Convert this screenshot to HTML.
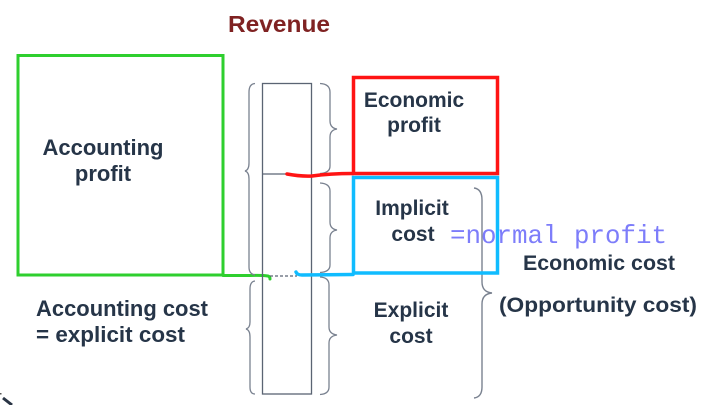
<!DOCTYPE html>
<html>
<head>
<meta charset="utf-8">
<style>
  html, body { margin: 0; padding: 0; background: #ffffff; }
  body { width: 724px; height: 405px; overflow: hidden; }
  svg { display: block; }
  .t { font-family: "Liberation Sans", "DejaVu Sans", sans-serif; font-weight: bold; fill: #263548; }
</style>
</head>
<body>
<svg width="724" height="405" viewBox="0 0 724 405" xmlns="http://www.w3.org/2000/svg">
  <rect width="724" height="405" fill="#ffffff"/>

  <!-- Revenue title -->
  <text x="228" y="32" font-family="Liberation Sans, sans-serif" font-weight="bold" font-size="23" fill="#7f2222" textLength="102" lengthAdjust="spacingAndGlyphs">Revenue</text>

  <!-- Green accounting profit box -->
  <rect x="18" y="55.5" width="205" height="219.5" fill="none" stroke="#2ecf2e" stroke-width="3"/>
  <path d="M223 275.5 L250 275.5 Q262 275 268 276 Q270 276.5 270 279" fill="none" stroke="#2ecf2e" stroke-width="3" stroke-linecap="round"/>

  <!-- Column rectangle -->
  <rect x="262.5" y="83.5" width="49" height="310.5" fill="none" stroke="#5b6473" stroke-width="1.3"/>
  <line x1="262.5" y1="174" x2="290" y2="174" stroke="#5b6473" stroke-width="1.3"/>
  <line x1="270" y1="276" x2="297" y2="276" stroke="#5b6473" stroke-width="1.2" stroke-dasharray="3 2"/>

  <!-- Left braces -->
  <path d="M255 83.5 Q249 84 249 92 L249 163 Q249 170 245 171 Q249 172 249 179 L249 267 Q249 274 255 275" fill="none" stroke="#7a8290" stroke-width="1.3"/>
  <path d="M255 281 Q250 281.5 250 289 L250 322 Q250 328 246 329 Q250 330 250 337 L250 387 Q250 394 255 394" fill="none" stroke="#7a8290" stroke-width="1.3"/>

  <!-- Right braces -->
  <path d="M320 83.5 Q330 84 330 92 L330 121 Q330 128 337 129 Q330 130 330 137 L330 166 Q330 173 320 173.5" fill="none" stroke="#7a8290" stroke-width="1.3"/>
  <path d="M320 183 Q330 183.5 330 191 L330 222 Q330 229 337 230 Q330 231 330 238 L330 265 Q330 272 320 272.5" fill="none" stroke="#7a8290" stroke-width="1.3"/>
  <path d="M320 277 Q329 277.5 329 285 L329 327 Q329 334 337 335 Q329 336 329 343 L329 387 Q329 394 320 394.5" fill="none" stroke="#7a8290" stroke-width="1.3"/>

  <!-- Big economic cost brace -->
  <path d="M474 188 Q482 189 482 200 L482 282 Q482 292 492 293 Q482 294 482 304 L482 387 Q482 397 474 398" fill="none" stroke="#7a8290" stroke-width="1.4"/>

  <!-- Red economic profit box -->
  <rect x="353.5" y="77.5" width="144" height="96" fill="none" stroke="#ff1414" stroke-width="3.5"/>
  <path d="M287 174 Q300 176.5 312 176 Q330 173.5 353 173.5" fill="none" stroke="#ff1414" stroke-width="3.5" stroke-linecap="round"/>

  <!-- Blue implicit cost box -->
  <rect x="353.5" y="177.5" width="144" height="95.5" fill="none" stroke="#10bcff" stroke-width="3.5"/>
  <path d="M296 272 Q297 275 302 275 L353 274.5" fill="none" stroke="#10bcff" stroke-width="3.5" stroke-linecap="round"/>

  <!-- Texts -->
  <text class="t" x="103" y="155" font-size="22" text-anchor="middle">Accounting</text>
  <text class="t" x="103" y="181" font-size="22" text-anchor="middle">profit</text>

  <text class="t" x="414" y="107" font-size="21" text-anchor="middle">Economic</text>
  <text class="t" x="414" y="132" font-size="21" text-anchor="middle">profit</text>

  <text class="t" x="412" y="215" font-size="21" text-anchor="middle">Implicit</text>
  <text class="t" x="413" y="241" font-size="21" text-anchor="middle">cost</text>

  <text class="t" x="411" y="317" font-size="21" text-anchor="middle">Explicit</text>
  <text class="t" x="411" y="343" font-size="21" text-anchor="middle">cost</text>

  <text class="t" x="523" y="270" font-size="21" textLength="152" lengthAdjust="spacingAndGlyphs">Economic cost</text>
  <text class="t" x="499" y="312" font-size="21" textLength="198" lengthAdjust="spacingAndGlyphs">(Opportunity cost)</text>

  <text class="t" x="36" y="316" font-size="22" textLength="172" lengthAdjust="spacingAndGlyphs">Accounting cost</text>
  <text class="t" x="36" y="342" font-size="22" textLength="149" lengthAdjust="spacingAndGlyphs">= explicit cost</text>

  <text x="450" y="243" font-family="Liberation Mono, DejaVu Sans Mono, monospace" font-size="26" fill="#7d7dfa" textLength="217" lengthAdjust="spacingAndGlyphs">=normal profit</text>

  <!-- cursor fragment bottom-left -->
  <line x1="3" y1="398" x2="12" y2="405" stroke="#2a3545" stroke-width="3"/>
  <rect x="0" y="393" width="1.5" height="1.5" fill="#555"/>
</svg>
</body>
</html>
